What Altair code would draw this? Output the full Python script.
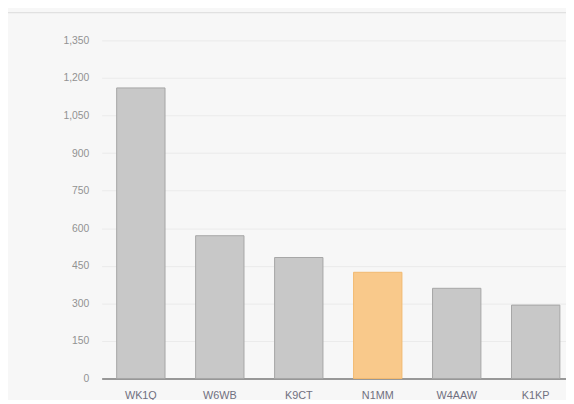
import altair as alt
import pandas as pd

operators = ["WK1Q", "W6WB", "K9CT", "N1MM", "W4AAW", "K1KP"]
points = [1160, 570, 483, 424, 360, 293]
highlight = ["N1MM"]
y_ticks = [0, 150, 300, 450, 600, 750, 900, 1050, 1200, 1350]

df = pd.DataFrame({
    "operator": operators,
    "points": points,
    "kind": ["hi" if o in highlight else "base" for o in operators],
})

font = "Liberation Sans"

bars = alt.Chart(df).mark_bar(strokeWidth=1).encode(
    x=alt.X(
        "operator:N",
        sort=operators,
        scale=alt.Scale(range=[0, 480], paddingInner=0.3875, paddingOuter=0.19),
        axis=alt.Axis(
            title=None, labelAngle=0, ticks=False, labelPadding=11,
            domainColor="#7a7a7a", domainWidth=1.5, labelColor="#707080",
            labelFontSize=11, labelFont=font, grid=False,
        ),
    ),
    y=alt.Y(
        "points:Q",
        scale=alt.Scale(domain=[0, 1350], nice=False),
        axis=alt.Axis(
            title=None, values=y_ticks, format=",d", ticks=False, domain=False,
            labelPadding=13, labelColor="#929292", labelFontSize=10.5,
            labelFont=font, gridColor="#ebebeb", gridWidth=1,
        ),
    ),
    fill=alt.Fill(
        "kind:N",
        scale=alt.Scale(domain=["base", "hi"], range=["#c8c8c8", "#f9c98b"]),
        legend=None,
    ),
    stroke=alt.Stroke(
        "kind:N",
        scale=alt.Scale(domain=["base", "hi"], range=["#a6a6a6", "#f2ba70"]),
        legend=None,
    ),
)

frame = alt.Chart(pd.DataFrame({"a": [0]})).mark_rule(
    color="#dadada", strokeWidth=1
).encode(x=alt.value(-95), x2=alt.value(471), y=alt.value(-28))

chart = alt.layer(frame, bars).properties(
    width=471,
    height=343,
    autosize=alt.AutoSizeParams(type="none"),
    padding={"left": 95, "top": 30, "right": 0, "bottom": 19},
    background="#f7f7f7",
).configure_view(stroke=None)

chart.save("out.html", embed_options={"renderer": "svg", "actions": False})
